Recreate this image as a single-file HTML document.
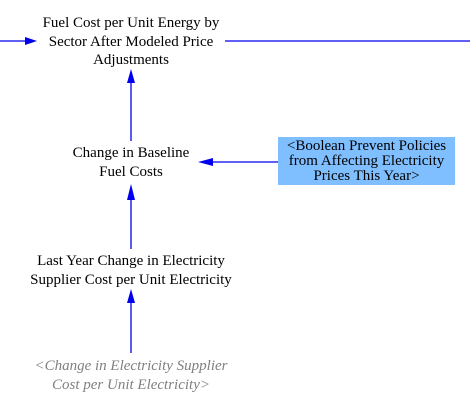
<!DOCTYPE html>
<html><head><meta charset="utf-8"><style>
body{margin:0;width:470px;height:401px;background:#fff;position:relative;overflow:hidden;font-family:"Liberation Serif",serif;font-size:15px;}
.t{position:absolute;text-align:center;line-height:18.5px;color:#000;white-space:nowrap;}
svg{position:absolute;left:0;top:0;}
</style></head><body>
<svg width="470" height="401">
<g stroke="#0000ee" stroke-width="1.3" fill="#0000ee">
<line x1="0" y1="41" x2="30" y2="41"/>
<polygon points="37,41 25,37 25,45" stroke="none"/>
<line x1="225" y1="41" x2="470" y2="41"/>
<line x1="131" y1="141" x2="131" y2="78"/>
<polygon points="131,69 127,83 135,83" stroke="none"/>
<line x1="278" y1="162" x2="206" y2="162"/>
<polygon points="198,162 213,158 213,166" stroke="none"/>
<line x1="131" y1="249" x2="131" y2="192"/>
<polygon points="131,184 127,200 135,200" stroke="none"/>
<line x1="131" y1="353" x2="131" y2="297"/>
<polygon points="131,289 127,303 135,303" stroke="none"/>
</g></svg>
<div class="t" style="left:21px;top:14px;width:220px;">Fuel Cost per Unit Energy by<br>Sector After Modeled Price<br>Adjustments</div>
<div class="t" style="left:41px;top:144px;width:180px;">Change in Baseline<br>Fuel Costs</div>
<div style="position:absolute;left:278px;top:137px;width:177px;height:48px;background:#80bfff;text-align:center;line-height:15px;padding-top:2px;box-sizing:border-box;white-space:nowrap;">&lt;Boolean Prevent Policies<br>from Affecting Electricity<br>Prices This Year&gt;</div>
<div class="t" style="left:1px;top:252px;width:260px;">Last Year Change in Electricity<br>Supplier Cost per Unit Electricity</div>
<div class="t" style="left:1px;top:357px;width:260px;color:#808080;font-style:italic;">&lt;Change in Electricity Supplier<br>Cost per Unit Electricity&gt;</div>
</body></html>
